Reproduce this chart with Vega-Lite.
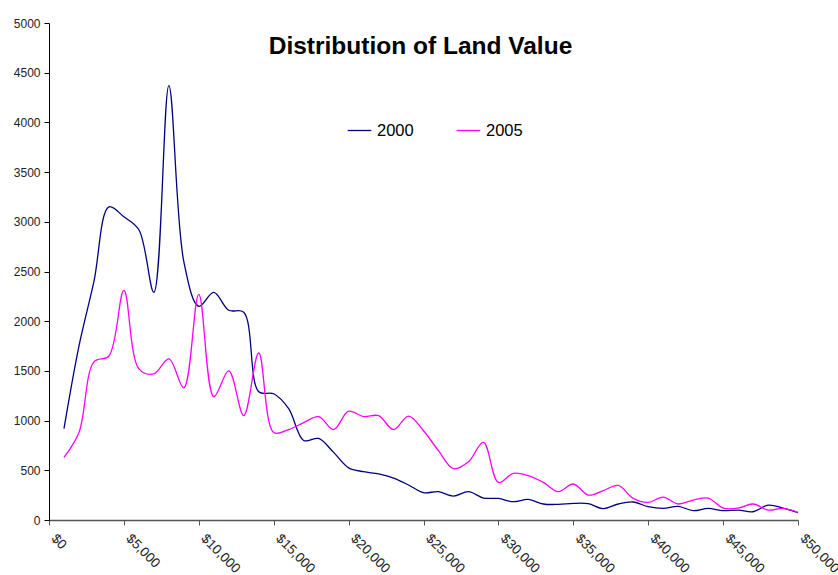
{
  "$schema": "https://vega.github.io/schema/vega-lite/v6.json",
  "autosize": {"type": "none"},
  "width": 749,
  "height": 497,
  "padding": {"left": 49, "top": 23, "right": 40, "bottom": 55},
  "background": "white",
  "title": {
    "text": "Distribution of Land Value",
    "font": "Liberation Sans",
    "fontSize": 24.5,
    "fontWeight": "bold",
    "color": "black",
    "anchor": "middle",
    "baseline": "alphabetic",
    "offset": -61,
    "dx": -3
  },
  "config": {
    "view": {"stroke": null},
    "font": "Liberation Sans"
  },
  "data": {
    "values": [
      {"value": 1000, "y2000": 920, "y2005": 630},
      {"value": 2000, "y2000": 1750, "y2005": 880},
      {"value": 3000, "y2000": 2400, "y2005": 1590},
      {"value": 4000, "y2000": 3150, "y2005": 1650},
      {"value": 5000, "y2000": 3050, "y2005": 2310},
      {"value": 6000, "y2000": 2920, "y2005": 1520},
      {"value": 7000, "y2000": 2290, "y2005": 1470},
      {"value": 8000, "y2000": 4370, "y2005": 1620},
      {"value": 9000, "y2000": 2600, "y2005": 1330},
      {"value": 10000, "y2000": 2150, "y2005": 2270},
      {"value": 11000, "y2000": 2290, "y2005": 1240},
      {"value": 12000, "y2000": 2110, "y2005": 1500},
      {"value": 13000, "y2000": 2090, "y2005": 1050},
      {"value": 14000, "y2000": 1290, "y2005": 1680},
      {"value": 15000, "y2000": 1270, "y2005": 880},
      {"value": 16000, "y2000": 1120, "y2005": 910},
      {"value": 17000, "y2000": 800, "y2005": 980},
      {"value": 18000, "y2000": 820, "y2005": 1040},
      {"value": 19000, "y2000": 680, "y2005": 910},
      {"value": 20000, "y2000": 525, "y2005": 1095},
      {"value": 21000, "y2000": 486, "y2005": 1040},
      {"value": 22000, "y2000": 463, "y2005": 1050},
      {"value": 23000, "y2000": 422, "y2005": 910},
      {"value": 24000, "y2000": 352, "y2005": 1045},
      {"value": 25000, "y2000": 275, "y2005": 898},
      {"value": 26000, "y2000": 285, "y2005": 697},
      {"value": 27000, "y2000": 241, "y2005": 516},
      {"value": 28000, "y2000": 285, "y2005": 586},
      {"value": 29000, "y2000": 221, "y2005": 780},
      {"value": 30000, "y2000": 217, "y2005": 378},
      {"value": 31000, "y2000": 184, "y2005": 469},
      {"value": 32000, "y2000": 207, "y2005": 446},
      {"value": 33000, "y2000": 161, "y2005": 378},
      {"value": 34000, "y2000": 157, "y2005": 285},
      {"value": 35000, "y2000": 167, "y2005": 362},
      {"value": 36000, "y2000": 164, "y2005": 251},
      {"value": 37000, "y2000": 114, "y2005": 295},
      {"value": 38000, "y2000": 161, "y2005": 348},
      {"value": 39000, "y2000": 181, "y2005": 217},
      {"value": 40000, "y2000": 134, "y2005": 177},
      {"value": 41000, "y2000": 117, "y2005": 230},
      {"value": 42000, "y2000": 137, "y2005": 161},
      {"value": 43000, "y2000": 94, "y2005": 201},
      {"value": 44000, "y2000": 117, "y2005": 221},
      {"value": 45000, "y2000": 94, "y2005": 120},
      {"value": 46000, "y2000": 100, "y2005": 120},
      {"value": 47000, "y2000": 83, "y2005": 161},
      {"value": 48000, "y2000": 150, "y2005": 100},
      {"value": 49000, "y2000": 120, "y2005": 117},
      {"value": 50000, "y2000": 73, "y2005": 77}
    ]
  },
  "transform": [
    {"fold": ["y2000", "y2005"], "as": ["key", "count"]},
    {"calculate": "datum.key == 'y2000' ? '2000' : '2005'", "as": "year"}
  ],
  "mark": {"type": "line", "interpolate": "catmull-rom", "strokeWidth": 1.3},
  "encoding": {
    "x": {
      "field": "value",
      "type": "quantitative",
      "scale": {"domain": [0, 50000], "nice": false, "zero": false},
      "axis": {
        "title": null,
        "values": [0, 5000, 10000, 15000, 20000, 25000, 30000, 35000, 40000, 45000, 50000],
        "format": "$,.0f",
        "labelAngle": 45,
        "labelAlign": "left",
        "labelBaseline": "middle",
        "labelPadding": 11,
        "labelOffset": 4,
        "labelFontSize": 13.5,
        "labelColor": "#222",
        "labelFlush": false,
        "labelOverlap": false,
        "domainColor": "#555",
        "domainWidth": 1.5,
        "tickColor": "#555",
        "tickSize": 5,
        "grid": false
      }
    },
    "y": {
      "field": "count",
      "type": "quantitative",
      "scale": {"domain": [0, 5000], "nice": false},
      "axis": {
        "title": null,
        "values": [0, 500, 1000, 1500, 2000, 2500, 3000, 3500, 4000, 4500, 5000],
        "format": "d",
        "labelFontSize": 12,
        "labelColor": "#222",
        "labelPadding": 4,
        "domainColor": "black",
        "tickColor": "black",
        "tickSize": 5,
        "grid": false
      }
    },
    "color": {
      "field": "year",
      "type": "nominal",
      "scale": {"domain": ["2000", "2005"], "range": ["#000080", "#FF00FF"]},
      "legend": {
        "title": null,
        "orient": "none",
        "legendX": 298,
        "legendY": 95,
        "direction": "horizontal",
        "symbolType": "stroke",
        "symbolSize": 560,
        "symbolStrokeWidth": 1.3,
        "labelFontSize": 16.5,
        "labelColor": "black",
        "labelOffset": 5,
        "columnPadding": 40
      }
    }
  }
}
